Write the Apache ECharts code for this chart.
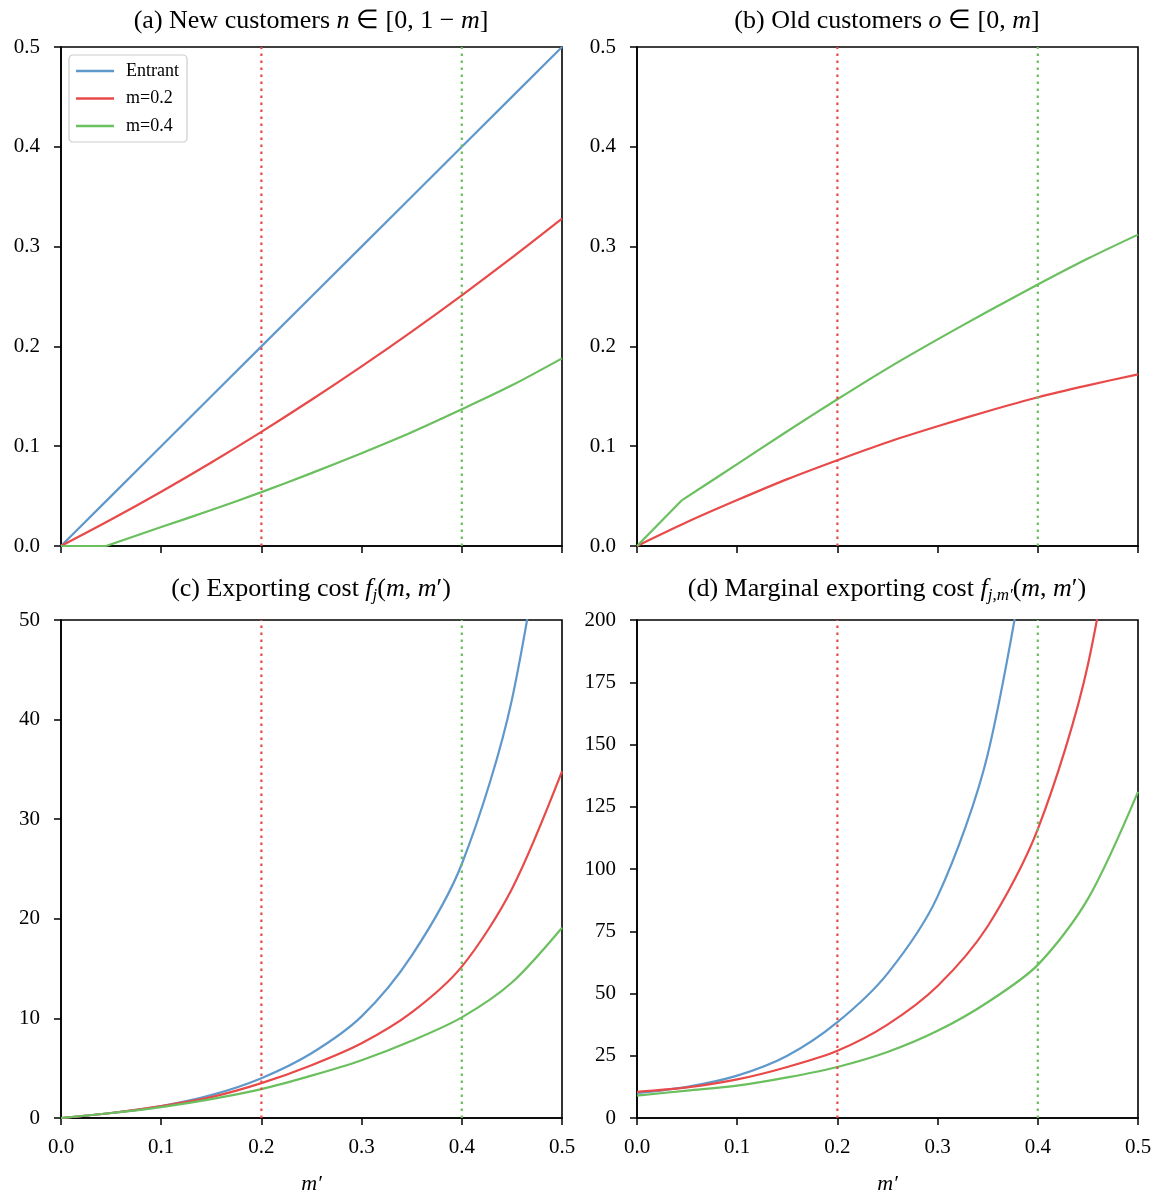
<!DOCTYPE html>
<html><head><meta charset="utf-8">
<script src="https://cdn.jsdelivr.net/npm/echarts@6/dist/echarts.min.js"></script>
<style>html,body{margin:0;padding:0;background:#fff}#c{width:1159px;height:1198px}</style>
</head><body><div id="c"></div>
<script>
// ---------- data ----------
const xGrid = [0, 0.05, 0.1, 0.15, 0.2, 0.25, 0.3, 0.35, 0.4, 0.45, 0.5];
const seriesNames = ['Entrant', 'm=0.2', 'm=0.4'];
const vLineX = [0.2, 0.4];

// (a) New customers
const aEntrant = [0, 0.05, 0.1, 0.15, 0.2, 0.25, 0.3, 0.35, 0.4, 0.45, 0.5];
const aM02 = [0, 0.0265, 0.0544, 0.0837, 0.1144, 0.1465, 0.18, 0.2149, 0.2512, 0.2889, 0.328];
const aM04X = [0, 0.045, 0.1, 0.15, 0.2, 0.25, 0.3, 0.35, 0.4, 0.45, 0.5];
const aM04 = [0, 0, 0.019, 0.036, 0.054, 0.073, 0.093, 0.114, 0.137, 0.161, 0.188];

// (b) Old customers
const bM02 = [0, 0.024, 0.046, 0.067, 0.086, 0.104, 0.12, 0.135, 0.149, 0.161, 0.172];
const bM04X = [0, 0.045, 0.1, 0.15, 0.2, 0.25, 0.3, 0.35, 0.4, 0.45, 0.5];
const bM04 = [0, 0.046, 0.082, 0.115, 0.147, 0.178, 0.207, 0.235, 0.262, 0.288, 0.312];

// (c) Exporting cost
const cEntrant = [0, 0.5, 1.2, 2.3, 4.0, 6.5, 10.2, 16.3, 25.5, 42, 72];
const cM02 = [0, 0.5, 1.2, 2.1, 3.5, 5.3, 7.5, 10.6, 15.2, 23.0, 34.8];
const cM04 = [0, 0.5, 1.1, 1.9, 2.9, 4.25, 5.8, 7.75, 10.1, 13.6, 19.1];

// (d) Marginal exporting cost
const dEntrantX = [0, 0.05, 0.1, 0.15, 0.2, 0.25, 0.3, 0.35, 0.4];
const dEntrant = [10, 12.5, 17, 25, 38.5, 58, 89, 146, 255];
const dM02 = [10.5, 12.3, 15.5, 20.5, 27, 37.5, 53, 77, 116, 182, 300];
const dM04 = [9, 11, 13, 16.3, 20.5, 26.5, 35, 46.5, 61.5, 88, 131];

// ---------- styling ----------
const FONT = 'Liberation Serif';
const COLORS = ['#5f98cb', '#e84a4a', '#6abf5e'];
const VCOLORS = ['#e84a4a', '#6abf5e'];
const LW = 2.2;

const grids = [
  {left: 61, top: 47, width: 501, height: 499},
  {left: 637, top: 47, width: 501, height: 499},
  {left: 61, top: 620, width: 501, height: 498},
  {left: 637, top: 620, width: 501, height: 498}
];
const yRanges = [[0, 0.5, 0.1, 1], [0, 0.5, 0.1, 1], [0, 50, 10, 0], [0, 200, 25, 0]];

const zip = (xs, ys) => xs.map((x, i) => [x, ys[i]]);

const axisCommon = {
  axisLine: {show: true, onZero: false, lineStyle: {color: '#000', width: 1.6}},
  axisTick: {show: true, length: 7, lineStyle: {color: '#000', width: 1.5}},
  splitLine: {show: false}
};

const xAxes = grids.map((g, i) => Object.assign({
  type: 'value', gridIndex: i, min: 0, max: 0.5, interval: 0.1,
  axisLabel: {show: i >= 2, margin: 19, fontFamily: FONT, fontSize: 21, color: '#000',
    formatter: v => v.toFixed(1)},
  name: i >= 2 ? 'm′' : '', nameLocation: 'middle', nameGap: 55,
  nameTextStyle: {fontFamily: FONT, fontSize: 22, fontStyle: 'italic', color: '#000'}
}, axisCommon));

const yAxes = grids.map((g, i) => Object.assign({
  type: 'value', gridIndex: i, min: yRanges[i][0], max: yRanges[i][1], interval: yRanges[i][2],
  axisLabel: {margin: 21, fontFamily: FONT, fontSize: 21, color: '#000',
    formatter: v => v.toFixed(yRanges[i][3])}
}, axisCommon));

function curve(name, gi, data, ci, smooth) {
  return {
    type: 'line', name: name, xAxisIndex: gi, yAxisIndex: gi, data: data,
    symbol: 'none', smooth: smooth === undefined ? 0.3 : smooth, clip: true,
    lineStyle: {color: COLORS[ci], width: LW}, itemStyle: {color: COLORS[ci]},
    emphasis: {disabled: true}, silent: true, z: 3
  };
}
function vline(gi, k) {
  return {
    type: 'line', name: 'v' + gi + '_' + k, xAxisIndex: gi, yAxisIndex: gi,
    data: [[vLineX[k], yRanges[gi][0]], [vLineX[k], yRanges[gi][1]]],
    symbol: 'none', silent: true, z: 4,
    lineStyle: {color: VCOLORS[k], width: 2.2, type: [2.6, 4.4]}
  };
}

const aM04pts = zip(aM04X, aM04);
const bM04pts = zip(bM04X, bM04);
const series = [
  curve(seriesNames[0], 0, zip(xGrid, aEntrant), 0, false),
  curve(seriesNames[1], 0, zip(xGrid, aM02), 1),
  curve(seriesNames[2], 0, aM04pts.slice(0, 2), 2, false),
  curve(seriesNames[2], 0, aM04pts.slice(1), 2),
  curve(seriesNames[1], 1, zip(xGrid, bM02), 1),
  curve(seriesNames[2], 1, bM04pts.slice(0, 2), 2, false),
  curve(seriesNames[2], 1, bM04pts.slice(1), 2),
  curve(seriesNames[0], 2, zip(xGrid, cEntrant), 0),
  curve(seriesNames[1], 2, zip(xGrid, cM02), 1),
  curve(seriesNames[2], 2, zip(xGrid, cM04), 2),
  curve(seriesNames[0], 3, zip(dEntrantX, dEntrant), 0),
  curve(seriesNames[1], 3, zip(xGrid, dM02), 1),
  curve(seriesNames[2], 3, zip(xGrid, dM04), 2)
];
for (let gi = 0; gi < 4; gi++) for (let k = 0; k < 2; k++) series.push(vline(gi, k));

const TS = 26;
const tStyle = {fontFamily: FONT, fontSize: TS, fontWeight: 'normal', color: '#000'};
const rich = {
  i: {fontFamily: FONT, fontSize: TS, fontWeight: 'normal', fontStyle: 'italic', color: '#000'},
  sub: {fontFamily: FONT, fontSize: 17, fontWeight: 'normal', fontStyle: 'italic', color: '#000', verticalAlign: 'bottom', lineHeight: 16}
};
const titles = [
  {text: '(a) New customers {i|n} ∈ [0, 1 − {i|m}]', x: 311, y: 6},
  {text: '(b) Old customers {i|o} ∈ [0, {i|m}]', x: 887, y: 6},
  {text: '(c) Exporting cost {i|f}{sub|j}({i|m}, {i|m}′)', x: 311, y: 574},
  {text: '(d) Marginal exporting cost {i|f}{sub|j,m′}({i|m}, {i|m}′)', x: 887, y: 574}
].map(t => ({
  text: t.text, left: t.x, top: t.y, textAlign: 'center', padding: 0,
  textStyle: Object.assign({rich: rich, lineHeight: 30}, tStyle)
}));

const option = {
  backgroundColor: '#fff',
  animation: false,
  title: titles,
  grid: grids.map(g => Object.assign({show: true, borderColor: '#000', borderWidth: 1.6, backgroundColor: 'transparent'}, g)),
  xAxis: xAxes,
  yAxis: yAxes,
  legend: {
    data: seriesNames, orient: 'vertical', left: 69, top: 55,
    icon: 'rect', itemWidth: 38, itemHeight: 2.5, itemGap: 9.5,
    padding: [7, 8, 7, 7],
    backgroundColor: 'rgba(255,255,255,0.8)', borderColor: '#cccccc', borderWidth: 1.2, borderRadius: 4,
    textStyle: {fontFamily: FONT, fontSize: 18, color: '#000', lineHeight: 17, padding: [0, 0, 0, 7]},
    selectedMode: false
  },
  series: series
};
const chart = echarts.init(document.getElementById('c'), null, {renderer: 'canvas'});
chart.setOption(option);
</script>
</body></html>
